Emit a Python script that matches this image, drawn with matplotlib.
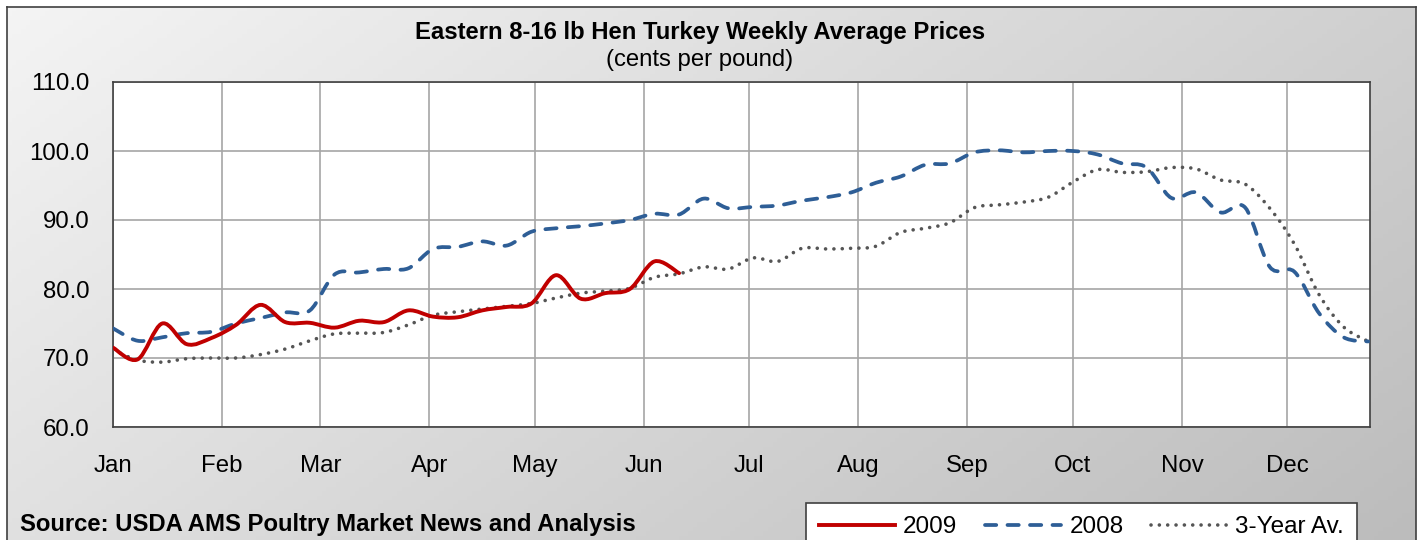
import matplotlib
matplotlib.use("Agg")
import matplotlib.pyplot as plt
import numpy as np
from matplotlib.path import Path
from matplotlib.patches import PathPatch
from matplotlib.lines import Line2D
from matplotlib.colors import LinearSegmentedColormap

plt.rcParams["font.family"] = ["Liberation Sans", "DejaVu Sans"]

# ---- data: weekly prices, cents per pound ----
week_day = np.arange(52) * 7          # days since Jan 1

p2009 = [71.5, 69.8, 75.0, 72.0, 72.9, 74.8, 77.7, 75.2, 75.1, 74.4,
         75.4, 75.2, 76.9, 76.0, 75.9, 76.9, 77.4, 77.9, 82.0, 78.6,
         79.4, 80.0, 84.0, 82.3]

p2008 = [74.3, 72.5, 73.0, 73.6, 73.8, 75.0, 75.8, 76.6, 76.9, 82.1,
         82.4, 82.9, 83.0, 85.8, 86.1, 86.9, 86.3, 88.3, 88.8, 89.1,
         89.5, 90.0, 90.9, 90.8, 93.1, 91.7, 91.9, 92.1, 92.8, 93.3,
         94.0, 95.4, 96.3, 98.0, 98.2, 99.8, 100.1, 99.8, 100.0, 100.0,
         99.5, 98.2, 97.6, 93.2, 94.0, 91.1, 91.8, 83.2, 82.5, 76.5,
         73.0, 72.4]

avg3 = [71.2, 69.7, 69.4, 69.9, 70.0, 70.0, 70.5, 71.3, 72.5, 73.5,
        73.6, 73.7, 74.8, 76.2, 76.7, 77.1, 77.5, 77.9, 78.7, 79.4,
        79.7, 80.1, 81.7, 82.2, 83.2, 82.9, 84.5, 84.0, 85.9, 85.8,
        85.9, 86.2, 88.2, 88.8, 89.6, 91.8, 92.2, 92.6, 93.3, 95.5,
        97.3, 96.9, 97.0, 97.6, 97.4, 95.8, 95.2, 91.7, 86.5, 79.2,
        74.5, 72.4]

months = ["Jan", "Feb", "Mar", "Apr", "May", "Jun",
          "Jul", "Aug", "Sep", "Oct", "Nov", "Dec"]
month_start = [0, 31, 59, 90, 120, 151, 181, 212, 243, 273, 304, 334]

RED = "#C00000"
BLUE = "#2E5E96"
GREY = "#555555"


def smooth_path(x, y):
    # Excel-style smoothed line: cubic Bezier through every point
    pts = np.column_stack([x, y]).astype(float)
    n = len(pts)
    verts = [pts[0]]
    codes = [Path.MOVETO]
    for i in range(n - 1):
        p0 = pts[i - 1] if i > 0 else pts[i]
        p1, p2 = pts[i], pts[i + 1]
        p3 = pts[i + 2] if i + 2 < n else pts[i + 1]
        verts += [p1 + (p2 - p0) / 6, p2 - (p3 - p1) / 6, p2]
        codes += [Path.CURVE4] * 3
    return Path(verts, codes)


W, H = 1422, 540
fig = plt.figure(figsize=(W / 100, H / 100), dpi=100, facecolor="white")

# gradient chart-area background with border
bg = fig.add_axes([7 / W, 0, 1409 / W, 533 / H])
gx, gy = np.meshgrid(np.linspace(0, 1, 300), np.linspace(0, 1, 120))
cmap = LinearSegmentedColormap.from_list("bg", ["#f4f4f4", "#bcbcbc"])
bg.imshow(0.65 * gx + 0.35 * gy, cmap=cmap, aspect="auto", extent=[0, 1, 1, 0])
bg.set_xticks([]); bg.set_yticks([])
for s in ["left", "top", "right"]:
    bg.spines[s].set_color("#404040"); bg.spines[s].set_linewidth(1.2)
bg.spines["bottom"].set_visible(False)

ax = fig.add_axes([113 / W, 113 / H, 1257 / W, 345 / H])
ax.set_facecolor("white")
ax.set_xlim(0, 357.5)
ax.set_ylim(60, 110)
ax.set_yticks(np.arange(60, 111, 10))
ax.set_yticklabels([f"{v:.1f}" for v in np.arange(60, 111, 10)])
ax.set_xticks(month_start)
ax.set_xticklabels(months)
ax.tick_params(axis="y", length=0, pad=17, labelsize=17.3)
ax.tick_params(axis="x", length=0, pad=20, labelsize=17.3)
ax.grid(True, color="#a6a6a6", lw=1.2)
ax.set_axisbelow(True)
for s in ax.spines.values():
    s.set_color("#404040"); s.set_linewidth(1.2)

series = [
    (p2009, RED, "-", 2.8, "2009"),
    (p2008, BLUE, (0, (3, 3.0)), 2.7, "2008"),
    (avg3, GREY, (0, (0.01, 2.3)), 2.6, "3-Year Av."),
]
handles = []
for vals, col, ls, lw, lab in series[::-1]:
    pp = PathPatch(smooth_path(week_day[:len(vals)], vals), fill=False,
                   edgecolor=col, lw=lw, ls=ls, capstyle="round", zorder=3)
    ax.add_patch(pp)
for vals, col, ls, lw, lab in series:
    handles.append(Line2D([], [], color=col, lw=lw, ls=ls,
                          dash_capstyle="round", label=lab))

fig.text(700 / W, 1 - 32 / H, "Eastern 8-16 lb Hen Turkey Weekly Average Prices",
         ha="center", va="center", fontsize=17.2, fontweight="bold")
fig.text(700 / W, 1 - 60 / H, "(cents per pound)",
         ha="center", va="center", fontsize=17.2)
fig.text(20 / W, 1 - 524 / H, "Source: USDA AMS Poultry Market News and Analysis",
         ha="left", va="center", fontsize=17.2, fontweight="bold")

leg = fig.legend(handles=handles, loc="upper left", bbox_to_anchor=(806 / W, 1 - 503 / H),
                 ncol=3, fontsize=17.5, frameon=True, fancybox=False, handlelength=3.1,
                 handletextpad=0.35, columnspacing=1.15, borderpad=0.55,
                 borderaxespad=0)
leg.get_frame().set_edgecolor("#404040")
leg.get_frame().set_linewidth(1.2)
leg.get_frame().set_facecolor("white")
leg.get_frame().set_alpha(1)

fig.savefig("out.png", dpi=100, facecolor="white")
